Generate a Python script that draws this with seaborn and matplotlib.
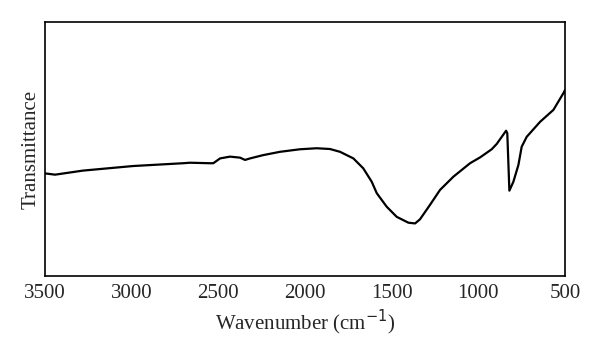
import matplotlib
matplotlib.use("Agg")
import matplotlib.pyplot as plt
import seaborn as sns
import pandas as pd

wavenumber = [3500, 3442, 3281, 2992, 2704, 2663, 2548, 2529, 2490, 2433, 2375, 2346,
              2317, 2241, 2144, 2029, 1933, 1856, 1798, 1721, 1664, 1615, 1586, 1529,
              1471, 1404, 1365, 1337, 1279, 1221, 1144, 1048, 990, 923, 894, 840, 833,
              821, 798, 769, 750, 721, 644, 567, 510, 500]
transmittance = [40.4, 39.9, 41.5, 43.3, 44.4, 44.6, 44.4, 44.4, 46.3, 47.0, 46.6, 45.7,
                 46.3, 47.6, 48.9, 49.9, 50.3, 50.0, 48.9, 46.3, 42.4, 37.1, 32.6, 27.3,
                 23.3, 21.0, 20.7, 22.3, 28.0, 33.9, 39.1, 44.4, 46.7, 49.9, 52.0, 57.2, 56.2,
                 33.6, 37.1, 43.7, 50.9, 54.8, 60.7, 65.4, 71.9, 73.2]
xticks = [3500, 3000, 2500, 2000, 1500, 1000, 500]

df = pd.DataFrame({"wn": wavenumber, "T": transmittance})

sns.set_style("white")
plt.rcParams["font.family"] = ["Liberation Serif", "DejaVu Serif"]

fig = plt.figure(figsize=(6, 3.55), dpi=100)
ax = fig.add_axes([0.075, 0.2225, 0.8667, 0.7155])
sns.lineplot(data=df, x="wn", y="T", ax=ax, color="black", linewidth=1.6, sort=False)
ax.set_xlim(3500, 500)
ax.set_ylim(0, 100)
ax.set_xticks(xticks)
ax.set_xticklabels([str(t) for t in xticks])
ax.set_yticks([])
ax.tick_params(axis="x", length=0, pad=6, labelsize=15)
ax.set_xlabel("Wavenumber (cm$^{-1}$)", fontsize=15, labelpad=3)
ax.set_ylabel("Transmittance", fontsize=15, labelpad=3)
for s in ax.spines.values():
    s.set_color("black")
    s.set_linewidth(1.2)
fig.savefig("out.png", dpi=100)
